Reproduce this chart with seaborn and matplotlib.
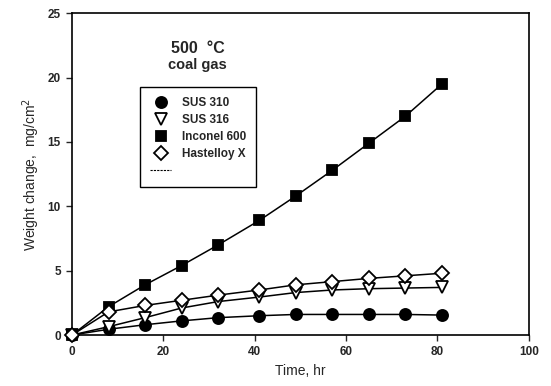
import matplotlib
matplotlib.use("Agg")
import matplotlib.pyplot as plt
from matplotlib.lines import Line2D
import seaborn as sns
import pandas as pd

time_hr = [0, 8, 16, 24, 32, 41, 49, 57, 65, 73, 81]
sus310 = [0, 0.45, 0.8, 1.1, 1.35, 1.5, 1.6, 1.6, 1.6, 1.6, 1.55]
sus316 = [0, 0.65, 1.35, 2.1, 2.6, 2.95, 3.3, 3.5, 3.6, 3.65, 3.7]
inconel600 = [0, 2.2, 3.9, 5.4, 7.0, 8.9, 10.8, 12.8, 14.9, 17.0, 19.5]
hastelloyx = [0, 1.8, 2.3, 2.7, 3.1, 3.5, 3.9, 4.15, 4.4, 4.6, 4.8]
series_names = ["SUS 310", "SUS 316", "Inconel 600", "Hastelloy X"]

sns.set_style("ticks")
plt.rcParams['font.family'] = ['Liberation Sans', 'DejaVu Sans']

rows = []
for name, vals in zip(series_names, [sus310, sus316, inconel600, hastelloyx]):
    for t, v in zip(time_hr, vals):
        rows.append({"Time": t, "Weight": v, "Alloy": name})
df = pd.DataFrame(rows)

fig = plt.figure(figsize=(5.51, 3.86), dpi=100)
ax = fig.add_axes([0.1307, 0.132, 0.829, 0.834])

styles = {
    "SUS 310": dict(marker="o", markersize=8, markerfacecolor="black"),
    "SUS 316": dict(marker="v", markersize=8.5, markerfacecolor="white"),
    "Inconel 600": dict(marker="s", markersize=7, markerfacecolor="black"),
    "Hastelloy X": dict(marker="D", markersize=7, markerfacecolor="white"),
}
handles = []
for name in series_names:
    sub = df[df["Alloy"] == name]
    st = styles[name]
    sns.lineplot(data=sub, x="Time", y="Weight", ax=ax, color="black",
                 linewidth=1.1, marker=st["marker"], markersize=st["markersize"],
                 markerfacecolor=st["markerfacecolor"], markeredgecolor="black",
                 markeredgewidth=1.3, legend=False, clip_on=False, zorder=3)
    handles.append(Line2D([], [], linestyle="none", marker=st["marker"],
                          markersize=st["markersize"], markerfacecolor=st["markerfacecolor"],
                          markeredgecolor="black", markeredgewidth=1.3, label=name))
handles.append(Line2D([], [], color="black", linestyle=(0, (2, 1)), linewidth=0.8, label=" "))

ax.set_xlim(0, 100)
ax.set_ylim(0, 25)
ax.set_xticks([0, 20, 40, 60, 80, 100])
ax.set_yticks([0, 5, 10, 15, 20, 25])
ax.tick_params(axis="both", direction="out", length=4, width=1, labelsize=8.5, pad=4)
for lab in ax.get_xticklabels() + ax.get_yticklabels():
    lab.set_fontweight("bold")
for sp in ax.spines.values():
    sp.set_visible(True)
    sp.set_linewidth(1.2)
    sp.set_color("black")
ax.set_xlabel("Time, hr", fontsize=10, labelpad=4)
ax.set_ylabel("Weight change,  mg/cm$^2$", fontsize=10, labelpad=4)

ax.text(0.275, 0.89, "500  \u00b0C", transform=ax.transAxes, ha="center", va="center",
        fontsize=11.5, fontweight="bold")
ax.text(0.275, 0.84, "coal gas", transform=ax.transAxes, ha="center", va="center",
        fontsize=10.5, fontweight="bold")

leg = ax.legend(handles=handles, loc="upper left", bbox_to_anchor=(0.149, 0.77),
                frameon=True, fancybox=False, edgecolor="black", framealpha=1,
                prop={"size": 8.5, "weight": "bold"}, handlelength=1.8, handletextpad=0.9,
                labelspacing=0.42, borderpad=0.85, borderaxespad=0)
leg.get_frame().set_linewidth(1.0)

fig.savefig("out.png", dpi=100)
